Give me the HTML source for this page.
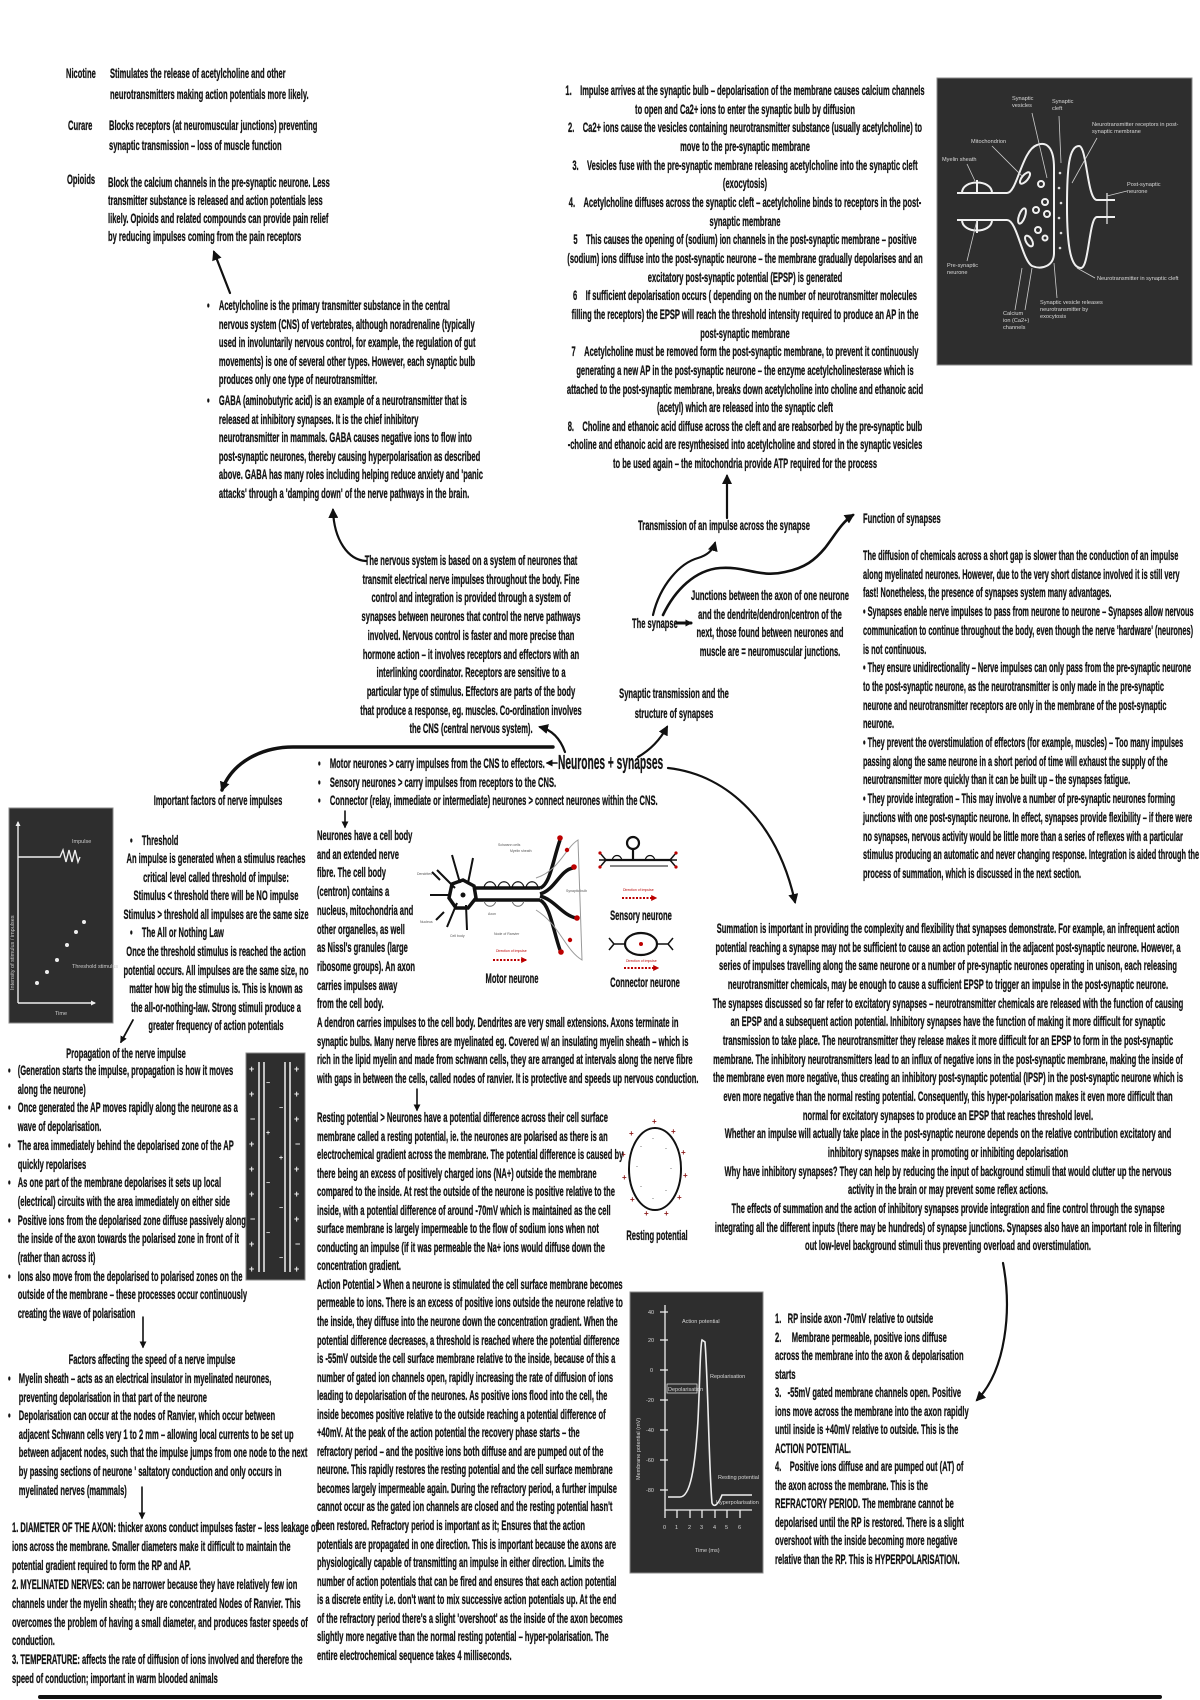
<!DOCTYPE html>
<html><head><meta charset="utf-8">
<style>
html,body{margin:0;padding:0;background:#fff;}
#pg{position:relative;width:1200px;height:1700px;overflow:hidden;background:#fff;}
.t{position:absolute;font-family:"Liberation Sans",Arial,sans-serif;font-weight:bold;font-size:14px;color:#141414;-webkit-text-stroke:0.3px #141414;white-space:nowrap;transform:scaleX(.54);transform-origin:0 0;line-height:18.6px;}
.c{width:1200px;text-align:center;transform-origin:50% 0;}
.bl{position:relative;padding-left:22px;}
.bu{position:absolute;left:0;}
svg{position:absolute;left:0;top:0;}
</style></head><body><div id="pg">
<svg width="1200" height="1700" viewBox="0 0 1200 1700">
<defs>
<marker id="a" viewBox="0 0 10 10" refX="8" refY="5" markerWidth="10" markerHeight="10" markerUnits="userSpaceOnUse" orient="auto"><path d="M0,0 L10,5 L0,10 z" fill="#111"/></marker>
<marker id="s" viewBox="0 0 10 10" refX="8" refY="5" markerWidth="7" markerHeight="7" markerUnits="userSpaceOnUse" orient="auto"><path d="M0,0 L10,5 L0,10 z" fill="#111"/></marker>
<marker id="r" viewBox="0 0 10 10" refX="8" refY="5" markerWidth="6" markerHeight="6" markerUnits="userSpaceOnUse" orient="auto"><path d="M0,0 L10,5 L0,10 z" fill="#b00"/></marker>
<marker id="w" viewBox="0 0 10 10" refX="8" refY="5" markerWidth="5" markerHeight="5" markerUnits="userSpaceOnUse" orient="auto"><path d="M0,0 L10,5 L0,10 z" fill="#eee"/></marker>
</defs>
<g fill="none" stroke="#111" stroke-width="2.2" stroke-linecap="round">
<path d="M230,293 L214,252" marker-end="url(#a)"/>
<path d="M366,561 C348,560 334,540 333,510" marker-end="url(#a)"/>
<path d="M727,518 L727,476" marker-end="url(#a)"/>
<path d="M653,615 C660,585 680,563 698,558 C708,555 713,550 715,543" marker-end="url(#a)"/>
<path d="M663,615 C675,590 695,570 720,568 C745,566 760,578 785,572 C805,568 815,560 825,548 C835,535 842,522 853,515" stroke-width="2.6" marker-end="url(#a)"/>
<path d="M565,752 C560,738 552,730 540,727" marker-end="url(#a)"/>
<path d="M638,757 C650,750 660,740 667,727" marker-end="url(#a)"/>
<path d="M668,768 C730,775 778,825 795,902" marker-end="url(#a)"/>
<path d="M553,747 L293,747 C262,747 232,762 222,790" stroke-width="3.4" marker-end="url(#a)"/>
<path d="M557,763 L547,763" stroke-width="1.6" marker-end="url(#s)"/>
<path d="M677,623 L691,623" stroke-width="3" marker-end="url(#s)"/>
<path d="M345,811 L345,827" stroke-width="1.6" marker-end="url(#s)"/>
<path d="M417,1089 L417,1110" stroke-width="1.6" marker-end="url(#s)"/>
<path d="M133,1020 L121,1042" stroke-width="1.8" marker-end="url(#s)"/>
<path d="M143,1317 L143,1347" stroke-width="1.6" marker-end="url(#s)"/>
<path d="M142,1487 L142,1518" stroke-width="1.6" marker-end="url(#s)"/>
<path d="M1003,1263 C1012,1310 1006,1370 977,1400" marker-end="url(#a)"/>
<path d="M40,1697 L1160,1697" stroke-width="4"/>
</g>

<!-- synapse dark image -->
<g transform="translate(937,78)">
<rect x="0" y="0" width="255" height="287" fill="#2e2e2e" stroke="#8a8a8a" stroke-width="1"/>
<g fill="none" stroke="#f0f0f0" stroke-width="2">
<path d="M20,115 L70,115 C80,115 85,72 100,67 C110,63 117,70 117,90 L117,175 C117,188 105,192 95,188 C85,182 80,142 70,142 L20,142"/>
<path d="M25,115 C25,101 55,101 55,115 M25,142 C25,156 55,156 55,142 M40,102 L40,115 M40,142 L40,155"/>
<path d="M178,122 L160,122 C150,122 150,68 142,68 C132,68 130,90 130,128 C130,170 134,190 144,190 C152,190 152,139 160,139 L178,139"/>
<circle cx="104" cy="106" r="3"/><circle cx="108" cy="124" r="3"/><circle cx="99" cy="132" r="3"/><circle cx="110" cy="136" r="3"/><circle cx="101" cy="152" r="3"/><circle cx="108" cy="160" r="2.5"/>
<ellipse cx="88" cy="100" rx="3" ry="7" transform="rotate(40 88 100)"/>
<ellipse cx="85" cy="138" rx="3" ry="8" transform="rotate(20 85 138)"/>
<ellipse cx="92" cy="163" rx="3" ry="6" transform="rotate(-30 92 163)"/>
<path d="M170,115 L170,146" stroke-width="1.2"/>
</g>
<g fill="#ddd"><circle cx="123" cy="95" r="1.3"/><circle cx="122" cy="110" r="1.3"/><circle cx="124" cy="125" r="1.3"/><circle cx="122" cy="140" r="1.3"/><circle cx="124" cy="155" r="1.3"/><circle cx="123" cy="170" r="1.3"/></g>
<g stroke="#ccc" stroke-width="0.8" fill="none">
<path d="M95,35 L110,100"/><path d="M122,38 L124,85"/><path d="M160,60 L135,105"/><path d="M55,68 L85,98"/><path d="M30,86 L38,103"/><path d="M190,113 L170,118"/><path d="M30,183 L40,142"/><path d="M158,200 L140,190"/><path d="M120,220 L117,185"/><path d="M88,232 L95,190"/><path d="M78,232 L85,190"/>
</g>
<g fill="#d8d8d8" font-family="Liberation Sans, sans-serif" font-size="5.6">
<text x="75" y="22">Synaptic</text><text x="75" y="29">vesicles</text>
<text x="115" y="25">Synaptic</text><text x="115" y="32">cleft</text>
<text x="155" y="48">Neurotransmitter receptors in post-</text><text x="155" y="55">synaptic membrane</text>
<text x="34" y="65">Mitochondrion</text>
<text x="5" y="83">Myelin sheath</text>
<text x="190" y="108">Post-synaptic</text><text x="190" y="115">neurone</text>
<text x="10" y="189">Pre-synaptic</text><text x="10" y="196">neurone</text>
<text x="160" y="202">Neurotransmitter in synaptic cleft</text>
<text x="103" y="226">Synaptic vesicle releases</text><text x="103" y="233">neurotransmitter by</text><text x="103" y="240">exocytosis</text>
<text x="66" y="237">Calcium</text><text x="66" y="244">ion (Ca2+)</text><text x="66" y="251">channels</text>
</g>
</g>

<!-- threshold graph -->
<g>
<rect x="9" y="808" width="104" height="215" fill="#2e2e2e" stroke="#888" stroke-width="1"/>
<g stroke="#eee" stroke-width="1.4" fill="none">
<path d="M18,1003 L18,822" marker-end="url(#w)"/>
<path d="M18,1003 L95,1003" marker-end="url(#w)"/>
<path d="M18,857 L60,857 L63,850 L66,862 L69,850 L72,862 L75,850 L78,862 L80,857"/>
</g>
<g fill="#eee"><circle cx="37" cy="983" r="2"/><circle cx="47" cy="972" r="2"/><circle cx="57" cy="960" r="2"/><circle cx="67" cy="945" r="2"/><circle cx="76" cy="932" r="2"/><circle cx="84" cy="922" r="2"/></g>
<g fill="#ccc" font-family="Liberation Sans, sans-serif" font-size="5.5">
<text x="72" y="843">Impulse</text>
<text x="72" y="968">Threshold stimulus</text>
<text x="55" y="1015">Time</text>
<text x="14" y="990" transform="rotate(-90 14 990)">Intensity of stimulus / impulses</text>
</g>
</g>

<!-- ion box -->
<g>
<rect x="246" y="1053" width="59" height="227" fill="#2e2e2e" stroke="#888" stroke-width="1"/>
<g stroke="#f0f0f0" stroke-width="1.5"><path d="M259,1062 L259,1272 M264,1062 L264,1272 M285,1062 L285,1272 M290,1062 L290,1272"/></g>
<g fill="#eee" font-family="Liberation Sans, sans-serif" font-size="9" font-weight="bold">
<text x="249" y="1072">+</text><text x="249" y="1097">+</text><text x="250" y="1122">−</text><text x="249" y="1147">+</text><text x="249" y="1172">+</text><text x="249" y="1197">+</text><text x="250" y="1222">−</text><text x="249" y="1247">+</text><text x="249" y="1272">+</text>
<text x="294" y="1072">+</text><text x="294" y="1097">+</text><text x="294" y="1122">+</text><text x="295" y="1147">−</text><text x="294" y="1172">+</text><text x="294" y="1197">+</text><text x="294" y="1222">+</text><text x="295" y="1247">−</text><text x="294" y="1272">+</text>
<text x="266" y="1085" font-size="7">−</text><text x="266" y="1135" font-size="7">+</text><text x="266" y="1185" font-size="7">−</text><text x="266" y="1235" font-size="7">−</text>
<text x="279" y="1110" font-size="7">−</text><text x="279" y="1160" font-size="7">+</text><text x="279" y="1210" font-size="7">−</text><text x="279" y="1260" font-size="7">−</text>
</g>
</g>

<!-- action potential graph -->
<g>
<rect x="630" y="1292" width="133" height="281" fill="#2e2e2e" stroke="#888" stroke-width="1"/>
<g stroke="#eee" stroke-width="1.3" fill="none">
<path d="M665,1305 L665,1510 L752,1510"/>
<path d="M660,1312 L668,1312 M660,1340 L668,1340 M660,1370 L668,1370 M660,1400 L668,1400 M660,1430 L668,1430 M660,1460 L668,1460 M660,1490 L668,1490"/>
<path d="M665,1510 L665,1518 M677,1510 L677,1518 M690,1510 L690,1518 M702,1510 L702,1518 M715,1510 L715,1518 M727,1510 L727,1518 M740,1510 L740,1518"/>
<path d="M668,1497 L680,1497 C690,1497 695,1470 698,1420 C700,1380 700,1345 702,1340 L705,1342 C708,1380 709,1470 712,1503 C714,1508 718,1505 722,1495 L752,1495" stroke-width="1.6"/>
<rect x="667" y="1384" width="30" height="9" stroke-width="0.7"/>
</g>
<g fill="#d5d5d5" font-family="Liberation Sans, sans-serif" font-size="5.5">
<text x="682" y="1323">Action potential</text>
<text x="710" y="1378">Repolarisation</text>
<text x="668" y="1391">Depolarisation</text>
<text x="718" y="1479">Resting potential</text>
<text x="716" y="1504">Hyperpolarisation</text>
<text x="695" y="1552">Time (ms)</text>
<text x="663" y="1529">0</text><text x="675" y="1529">1</text><text x="688" y="1529">2</text><text x="700" y="1529">3</text><text x="713" y="1529">4</text><text x="725" y="1529">5</text><text x="738" y="1529">6</text>
<text x="648" y="1314">40</text><text x="648" y="1342">20</text><text x="650" y="1372">0</text><text x="646" y="1402">-20</text><text x="646" y="1432">-40</text><text x="646" y="1462">-60</text><text x="646" y="1492">-80</text>
<text x="640" y="1480" transform="rotate(-90 640 1480)">Membrane potential (mV)</text>
</g>
</g>

<!-- motor neurone -->
<g stroke="#111" fill="none">
<path d="M437,870 L455,888 M452,855 L460,883 M473,858 L468,883 M447,927 L457,903 M467,930 L466,905 M430,895 L450,895 M440,880 L432,872 M444,912 L436,920" stroke-width="2"/>
<path d="M452,884 L463,880 L474,886 L476,898 L468,908 L456,908 L449,898 Z" stroke-width="3.5"/>
<path d="M474,888 L540,888 M474,900 L540,900" stroke-width="3.5"/>
<path d="M484,887 C486,880 494,880 496,887 M498,887 C500,880 508,880 510,887 M512,887 C514,880 522,880 524,887 M526,887 C528,880 536,880 538,887" stroke-width="1.2"/>
<path d="M484,901 C486,908 494,908 496,901 M512,901 C514,908 522,908 524,901" stroke-width="1" stroke="#666"/>
<path d="M540,888 C550,885 553,860 560,840 M540,894 C555,890 560,870 573,868 M540,900 C550,905 553,930 560,950 M540,896 C555,900 562,915 576,918" stroke-width="3.5"/>
<path d="M536,878 C560,870 565,848 578,840 L582,960 C565,950 560,925 536,910" stroke="#999" stroke-width="1"/>
</g>
<g fill="#b00"><circle cx="560" cy="838" r="2.8"/><circle cx="567" cy="850" r="2.2"/><circle cx="574" cy="867" r="2.8"/><circle cx="577" cy="918" r="2.8"/><circle cx="561" cy="952" r="2.8"/><circle cx="570" cy="940" r="2.2"/></g>
<circle cx="463" cy="895" r="2.5" fill="#111"/>
<path d="M493,960 L526,960" stroke="#b00" stroke-width="2" stroke-dasharray="2,1.5" marker-end="url(#r)"/>
<g fill="#555" font-family="Liberation Sans, sans-serif" font-size="3.5">
<text x="498" y="846">Schwann cells</text><text x="510" y="852">Myelin sheath</text><text x="417" y="875">Dendrites</text><text x="420" y="923">Nucleus</text><text x="450" y="937">Cell body</text><text x="488" y="915">Axon</text><text x="494" y="935">Node of Ranvier</text><text x="566" y="892">Synaptic bulb</text>
</g>
<text x="496" y="952" fill="#b00" font-family="Liberation Sans, sans-serif" font-size="3.5">Direction of impulse</text>

<!-- sensory neurone -->
<g stroke="#111" fill="none" stroke-width="2.2">
<path d="M606,860 L670,860"/>
<path d="M612,860 C614,854 620,854 622,860 M645,860 C647,854 653,854 655,860" stroke-width="1.2"/>
<path d="M633,860 L633,849"/><circle cx="633" cy="843" r="6"/>
<path d="M606,860 L600,853 M606,860 L600,867 M606,860 L599,860 M670,860 L676,853 M670,860 L676,867 M670,860 L677,860" stroke-width="1.5"/>
<path d="M610,866 L668,866" stroke-width="1"/>
</g>
<g fill="#b00"><circle cx="600" cy="853" r="1.6"/><circle cx="600" cy="867" r="1.6"/><circle cx="676" cy="853" r="1.6"/><circle cx="676" cy="867" r="1.6"/></g>
<path d="M622,898 L656,898" stroke="#b00" stroke-width="2" stroke-dasharray="2,1.5" marker-end="url(#r)"/>
<text x="623" y="891" fill="#b00" font-family="Liberation Sans, sans-serif" font-size="3.5">Direction of impulse</text>

<!-- connector neurone -->
<g stroke="#111" fill="none" stroke-width="2.2">
<ellipse cx="641" cy="944" rx="16" ry="11"/>
<path d="M614,944 L625,944 M657,944 L668,944 M614,944 L609,938 M614,944 L609,950 M668,944 L673,938 M668,944 L673,950" stroke-width="1.5"/>
</g>
<circle cx="641" cy="944" r="2" fill="#b00"/>
<path d="M624,968 L658,968" stroke="#b00" stroke-width="2" stroke-dasharray="2,1.5" marker-end="url(#r)"/>
<text x="626" y="962" fill="#b00" font-family="Liberation Sans, sans-serif" font-size="3.5">Direction of impulse</text>

<!-- resting potential circle -->
<ellipse cx="655" cy="1169" rx="26" ry="41" fill="none" stroke="#111" stroke-width="2"/>
<g fill="#8b1a1a" font-family="Liberation Sans, sans-serif" font-size="8" font-weight="bold">
<text x="652" y="1124">+</text><text x="671" y="1134">+</text><text x="681" y="1155">+</text><text x="683" y="1178">+</text><text x="677" y="1200">+</text><text x="664" y="1216">+</text><text x="644" y="1216">+</text><text x="630" y="1202">+</text><text x="622" y="1180">+</text><text x="621" y="1157">+</text><text x="629" y="1136">+</text>
</g>
<g fill="#555" font-family="Liberation Sans, sans-serif" font-size="6">
<text x="652" y="1140">-</text><text x="665" y="1150">-</text><text x="670" y="1170">-</text><text x="665" y="1192">-</text><text x="652" y="1200">-</text><text x="640" y="1188">-</text><text x="636" y="1168">-</text><text x="640" y="1148">-</text>
</g>
</svg>

<!-- Drugs -->
<div class="t" style="left:66px;top:63px;line-height:21px">Nicotine</div>
<div class="t" style="left:110px;top:63px;line-height:21px">Stimulates the release of acetylcholine and other<br>neurotransmitters making action potentials more likely.</div>
<div class="t" style="left:68px;top:115px;line-height:20px">Curare</div>
<div class="t" style="left:109px;top:115px;line-height:20px">Blocks receptors (at neuromuscular junctions) preventing<br>synaptic transmission – loss of muscle function</div>
<div class="t" style="left:67px;top:170px;line-height:18px">Opioids</div>
<div class="t" style="left:108px;top:173px;line-height:18px">Block the calcium channels in the pre-synaptic neurone. Less<br>transmitter substance is released and action potentials less<br>likely. Opioids and related compounds can provide pain relief<br>by reducing impulses coming from the pain receptors</div>

<!-- Acetylcholine / GABA -->
<div class="t" style="left:207px;top:296px;line-height:18.6px">
<div class="bl"><span class="bu">•</span>Acetylcholine is the primary transmitter substance in the central<br>nervous system (CNS) of vertebrates, although noradrenaline (typically<br>used in involuntarily nervous control, for example, the regulation of gut<br>movements) is one of several other types. However, each synaptic bulb<br>produces only one type of neurotransmitter.</div>
<div class="bl" style="margin-top:2px"><span class="bu">•</span>GABA (aminobutyric acid) is an example of a neurotransmitter that is<br>released at inhibitory synapses. It is the chief inhibitory<br>neurotransmitter in mammals. GABA causes negative ions to flow into<br>post-synaptic neurones, thereby causing hyperpolarisation as described<br>above. GABA has many roles including helping reduce anxiety and 'panic<br>attacks' through a 'damping down' of the nerve pathways in the brain.</div>
</div>

<!-- Nervous system -->
<div class="t c" style="left:-129px;top:551px;line-height:18.7px">The nervous system is based on a system of neurones that<br>transmit electrical nerve impulses throughout the body. Fine<br>control and integration is provided through a system of<br>synapses between neurones that control the nerve pathways<br>involved. Nervous control is faster and more precise than<br>hormone action – it involves receptors and effectors with an<br>interlinking coordinator. Receptors are sensitive to a<br>particular type of stimulus. Effectors are parts of the body<br>that produce a response, eg. muscles. Co-ordination involves<br>the CNS (central nervous system).</div>

<!-- Transmission steps -->
<div class="t c" style="left:145px;top:81px;line-height:18.65px">1.&nbsp;&nbsp;&nbsp;&nbsp;Impulse arrives at the synaptic bulb – depolarisation of the membrane causes calcium channels<br>to open and Ca2+ ions to enter the synaptic bulb by diffusion<br>2.&nbsp;&nbsp;&nbsp;&nbsp;Ca2+ ions cause the vesicles containing neurotransmitter substance (usually acetylcholine) to<br>move to the pre-synaptic membrane<br>3.&nbsp;&nbsp;&nbsp;&nbsp;Vesicles fuse with the pre-synaptic membrane releasing acetylcholine into the synaptic cleft<br>(exocytosis)<br>4.&nbsp;&nbsp;&nbsp;&nbsp;Acetylcholine diffuses across the synaptic cleft – acetylcholine binds to receptors in the post-<br>synaptic membrane<br>5&nbsp;&nbsp;&nbsp;&nbsp;This causes the opening of (sodium) ion channels in the post-synaptic membrane – positive<br>(sodium) ions diffuse into the post-synaptic neurone – the membrane gradually depolarises and an<br>excitatory post-synaptic potential (EPSP) is generated<br>6&nbsp;&nbsp;&nbsp;&nbsp;If sufficient depolarisation occurs ( depending on the number of neurotransmitter molecules<br>filling the receptors) the EPSP will reach the threshold intensity required to produce an AP in the<br>post-synaptic membrane<br>7&nbsp;&nbsp;&nbsp;&nbsp;Acetylcholine must be removed form the post-synaptic membrane, to prevent it continuously<br>generating a new AP in the post-synaptic neurone – the enzyme acetylcholinesterase which is<br>attached to the post-synaptic membrane, breaks down acetylcholine into choline and ethanoic acid<br>(acetyl) which are released into the synaptic cleft<br>8.&nbsp;&nbsp;&nbsp;&nbsp;Choline and ethanoic acid diffuse across the cleft and are reabsorbed by the pre-synaptic bulb<br>-choline and ethanoic acid are resynthesised into acetylcholine and stored in the synaptic vesicles<br>to be used again – the mitochondria provide ATP required for the process</div>

<div class="t c" style="left:124px;top:516px;line-height:18px">Transmission of an impulse across the synapse</div>
<div class="t" style="left:863px;top:509px;line-height:18px">Function of synapses</div>

<div class="t" style="left:863px;top:546px;line-height:18.7px;transform:scaleX(.525)">The diffusion of chemicals across a short gap is slower than the conduction of an impulse<br>along myelinated neurones. However, due to the very short distance involved it is still very<br>fast! Nonetheless, the presence of synapses system many advantages.<br>• Synapses enable nerve impulses to pass from neurone to neurone – Synapses allow nervous<br>communication to continue throughout the body, even though the nerve 'hardware' (neurones)<br>is not continuous.<br>• They ensure unidirectionality – Nerve impulses can only pass from the pre-synaptic neurone<br>to the post-synaptic neurone, as the neurotransmitter is only made in the pre-synaptic<br>neurone and neurotransmitter receptors are only in the membrane of the post-synaptic<br>neurone.<br>• They prevent the overstimulation of effectors (for example, muscles) – Too many impulses<br>passing along the same neurone in a short period of time will exhaust the supply of the<br>neurotransmitter more quickly than it can be built up – the synapses fatigue.<br>• They provide integration – This may involve a number of pre-synaptic neurones forming<br>junctions with one post-synaptic neurone. In effect, synapses provide flexibility – if there were<br>no synapses, nervous activity would be little more than a series of reflexes with a particular<br>stimulus producing an automatic and never changing response. Integration is aided through the<br>process of summation, which is discussed in the next section.</div>

<!-- synapse hub -->
<div class="t c" style="left:74px;top:684px;line-height:19.5px">Synaptic transmission and the<br>structure of synapses</div>
<div class="t" style="left:632px;top:614px;line-height:18px">The synapse</div>
<div class="t c" style="left:170px;top:586px;line-height:18.5px">Junctions between the axon of one neurone<br>and the dendrite/dendron/centron of the<br>next, those found between neurones and<br>muscle are = neuromuscular junctions.</div>

<div class="t" style="left:558px;top:751px;font-size:20px;line-height:24px;transform:scaleX(.51)">Neurones + synapses</div>

<!-- Summation -->
<div class="t c" style="left:348px;top:919px;line-height:18.65px">Summation is important in providing the complexity and flexibility that synapses demonstrate. For example, an infrequent action<br>potential reaching a synapse may not be sufficient to cause an action potential in the adjacent post-synaptic neurone. However, a<br>series of impulses travelling along the same neurone or a number of pre-synaptic neurones operating in unison, each releasing<br>neurotransmitter chemicals, may be enough to cause a sufficient EPSP to trigger an impulse in the post-synaptic neurone.<br>The synapses discussed so far refer to excitatory synapses – neurotransmitter chemicals are released with the function of causing<br>an EPSP and a subsequent action potential. Inhibitory synapses have the function of making it more difficult for synaptic<br>transmission to take place. The neurotransmitter they release makes it more difficult for an EPSP to form in the post-synaptic<br>membrane. The inhibitory neurotransmitters lead to an influx of negative ions in the post-synaptic membrane, making the inside of<br>the membrane even more negative, thus creating an inhibitory post-synaptic potential (IPSP) in the post-synaptic neurone which is<br>even more negative than the normal resting potential. Consequently, this hyper-polarisation makes it even more difficult than<br>normal for excitatory synapses to produce an EPSP that reaches threshold level.<br>Whether an impulse will actually take place in the post-synaptic neurone depends on the relative contribution excitatory and<br>inhibitory synapses make in promoting or inhibiting depolarisation<br>Why have inhibitory synapses? They can help by reducing the input of background stimuli that would clutter up the nervous<br>activity in the brain or may prevent some reflex actions.<br>The effects of summation and the action of inhibitory synapses provide integration and fine control through the synapse<br>integrating all the different inputs (there may be hundreds) of synapse junctions. Synapses also have an important role in filtering<br>out low-level background stimuli thus preventing overload and overstimulation.</div>

<!-- RP list -->
<div class="t" style="left:775px;top:1309px;line-height:18.5px">1.&nbsp;&nbsp;&nbsp;RP inside axon -70mV relative to outside<br>2.&nbsp;&nbsp;&nbsp;&nbsp;&nbsp;Membrane permeable, positive ions diffuse<br>across the membrane into the axon &amp; depolarisation<br>starts<br>3.&nbsp;&nbsp;&nbsp;-55mV gated membrane channels open. Positive<br>ions move across the membrane into the axon rapidly<br>until inside is +40mV relative to outside. This is the<br>ACTION POTENTIAL.<br>4.&nbsp;&nbsp;&nbsp;&nbsp;Positive ions diffuse and are pumped out (AT) of<br>the axon across the membrane. This is the<br>REFRACTORY PERIOD. The membrane cannot be<br>depolarised until the RP is restored. There is a slight<br>overshoot with the inside becoming more negative<br>relative than the RP. This is HYPERPOLARISATION.</div>

<!-- Neurone types -->
<div class="t" style="left:318px;top:754px;line-height:18.5px">
<div class="bl"><span class="bu">•</span>Motor neurones &gt; carry impulses from the CNS to effectors.</div>
<div class="bl"><span class="bu">•</span>Sensory neurones &gt; carry impulses from receptors to the CNS.</div>
<div class="bl"><span class="bu">•</span>Connector (relay, immediate or intermediate) neurones &gt; connect neurones within the CNS.</div>
</div>

<div class="t" style="left:317px;top:826px;line-height:18.7px">Neurones have a cell body<br>and an extended nerve<br>fibre. The cell body<br>(centron) contains a<br>nucleus, mitochondria and<br>other organelles, as well<br>as Nissl's granules (large<br>ribosome groups). An axon<br>carries impulses away<br>from the cell body.<br>A dendron carries impulses to the cell body. Dendrites are very small extensions. Axons terminate in<br>synaptic bulbs. Many nerve fibres are myelinated eg. Covered w/ an insulating myelin sheath – which is<br>rich in the lipid myelin and made from schwann cells, they are arranged at intervals along the nerve fibre<br>with gaps in between the cells, called nodes of ranvier. It is protective and speeds up nervous conduction.</div>

<div class="t c" style="left:-88px;top:970px;line-height:16px">Motor neurone</div>
<div class="t c" style="left:41px;top:907px;line-height:16px">Sensory neurone</div>
<div class="t c" style="left:45px;top:974px;line-height:16px">Connector neurone</div>
<div class="t c" style="left:57px;top:1227px;line-height:16px">Resting potential</div>

<div class="t" style="left:317px;top:1108px;line-height:18.55px">Resting potential &gt; Neurones have a potential difference across their cell surface<br>membrane called a resting potential, ie. the neurones are polarised as there is an<br>electrochemical gradient across the membrane. The potential difference is caused by<br>there being an excess of positively charged ions (NA+) outside the membrane<br>compared to the inside. At rest the outside of the neurone is positive relative to the<br>inside, with a potential difference of around -70mV which is maintained as the cell<br>surface membrane is largely impermeable to the flow of sodium ions when not<br>conducting an impulse (if it was permeable the Na+ ions would diffuse down the<br>concentration gradient.<br>Action Potential &gt; When a neurone is stimulated the cell surface membrane becomes<br>permeable to ions. There is an excess of positive ions outside the neurone relative to<br>the inside, they diffuse into the neurone down the concentration gradient. When the<br>potential difference decreases, a threshold is reached where the potential difference<br>is -55mV outside the cell surface membrane relative to the inside, because of this a<br>number of gated ion channels open, rapidly increasing the rate of diffusion of ions<br>leading to depolarisation of the neurones. As positive ions flood into the cell, the<br>inside becomes positive relative to the outside reaching a potential difference of<br>+40mV. At the peak of the action potential the recovery phase starts – the<br>refractory period – and the positive ions both diffuse and are pumped out of the<br>neurone. This rapidly restores the resting potential and the cell surface membrane<br>becomes largely impermeable again. During the refractory period, a further impulse<br>cannot occur as the gated ion channels are closed and the resting potential hasn't<br>been restored. Refractory period is important as it; Ensures that the action<br>potentials are propagated in one direction. This is important because the axons are<br>physiologically capable of transmitting an impulse in either direction. Limits the<br>number of action potentials that can be fired and ensures that each action potential<br>is a discrete entity i.e. don't want to mix successive action potentials up. At the end<br>of the refractory period there's a slight 'overshoot' as the inside of the axon becomes<br>slightly more negative than the normal resting potential – hyper-polarisation. The<br>entire electrochemical sequence takes 4 milliseconds.</div>

<!-- Left column -->
<div class="t c" style="left:-382px;top:791px;line-height:18px">Important factors of nerve impulses</div>
<div class="t" style="left:130px;top:831px;line-height:18.5px"><div class="bl"><span class="bu">•</span>Threshold</div></div>
<div class="t c" style="left:-384px;top:849px;line-height:18.5px">An impulse is generated when a stimulus reaches<br>critical level called threshold of impulse:<br>Stimulus &lt; threshold there will be NO impulse<br>Stimulus &gt; threshold all impulses are the same size</div>
<div class="t" style="left:130px;top:923px;line-height:18.5px"><div class="bl"><span class="bu">•</span>The All or Nothing Law</div></div>
<div class="t c" style="left:-384px;top:942px;line-height:18.5px">Once the threshold stimulus is reached the action<br>potential occurs. All impulses are the same size, no<br>matter how big the stimulus is. This is known as<br>the all-or-nothing-law. Strong stimuli produce a<br>greater frequency of action potentials</div>

<div class="t c" style="left:-474px;top:1044px;line-height:18px">Propagation of the nerve impulse</div>
<div class="t" style="left:8px;top:1061px;line-height:18.7px">
<div class="bl" style="padding-left:18px"><span class="bu">•</span>(Generation starts the impulse, propagation is how it moves<br>along the neurone)</div>
<div class="bl" style="padding-left:18px"><span class="bu">•</span>Once generated the AP moves rapidly along the neurone as a<br>wave of depolarisation.</div>
<div class="bl" style="padding-left:18px"><span class="bu">•</span>The area immediately behind the depolarised zone of the AP<br>quickly repolarises</div>
<div class="bl" style="padding-left:18px"><span class="bu">•</span>As one part of the membrane depolarises it sets up local<br>(electrical) circuits with the area immediately on either side</div>
<div class="bl" style="padding-left:18px"><span class="bu">•</span>Positive ions from the depolarised zone diffuse passively along<br>the inside of the axon towards the polarised zone in front of it<br>(rather than across it)</div>
<div class="bl" style="padding-left:18px"><span class="bu">•</span>Ions also move from the depolarised to polarised zones on the<br>outside of the membrane – these processes occur continuously<br>creating the wave of polarisation</div>
</div>

<div class="t c" style="left:-448px;top:1350px;line-height:18px">Factors affecting the speed of a nerve impulse</div>
<div class="t" style="left:8px;top:1369px;line-height:18.6px">
<div class="bl" style="padding-left:20px"><span class="bu">•</span>Myelin sheath – acts as an electrical insulator in myelinated neurones,<br>preventing depolarisation in that part of the neurone</div>
<div class="bl" style="padding-left:20px"><span class="bu">•</span>Depolarisation can occur at the nodes of Ranvier, which occur between<br>adjacent Schwann cells very 1 to 2 mm – allowing local currents to be set up<br>between adjacent nodes, such that the impulse jumps from one node to the next<br>by passing sections of neurone ' saltatory conduction and only occurs in<br>myelinated nerves (mammals)</div>
</div>
<div class="t" style="left:12px;top:1518px;line-height:18.9px">1. DIAMETER OF THE AXON: thicker axons conduct impulses faster – less leakage of<br>ions across the membrane. Smaller diameters make it difficult to maintain the<br>potential gradient required to form the RP and AP.<br>2. MYELINATED NERVES: can be narrower because they have relatively few ion<br>channels under the myelin sheath; they are concentrated Nodes of Ranvier. This<br>overcomes the problem of having a small diameter, and produces faster speeds of<br>conduction.<br>3. TEMPERATURE: affects the rate of diffusion of ions involved and therefore the<br>speed of conduction; important in warm blooded animals</div>

</div></body></html>
